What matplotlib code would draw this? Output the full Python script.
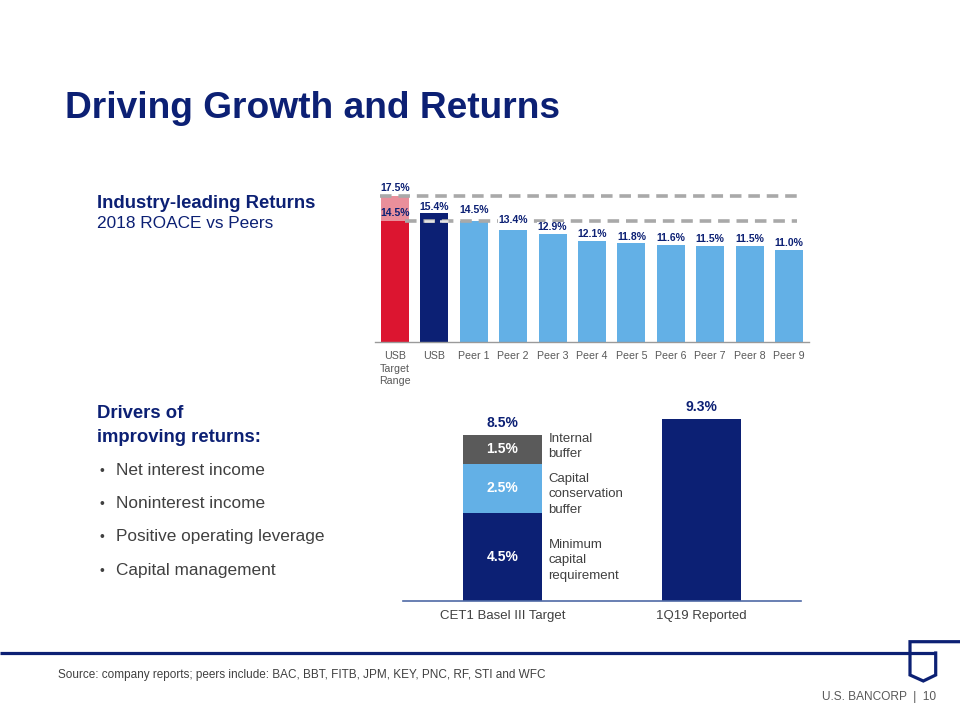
import matplotlib
matplotlib.use("Agg")
import matplotlib.pyplot as plt
from matplotlib.lines import Line2D
import numpy as np

plt.rcParams['font.family'] = ['Liberation Sans', 'DejaVu Sans']

# ---------------- data ----------------
roace_categories = ["USB\nTarget\nRange", "USB", "Peer 1", "Peer 2", "Peer 3", "Peer 4",
                    "Peer 5", "Peer 6", "Peer 7", "Peer 8", "Peer 9"]
target_low = 14.5
target_high = 17.5
roace_values = [15.4, 14.5, 13.4, 12.9, 12.1, 11.8, 11.6, 11.5, 11.5, 11.0]  # USB, Peer 1..9

cet1_categories = ["CET1 Basel III Target", "1Q19 Reported"]
cet1_components = [4.5, 2.5, 1.5]
cet1_component_names = ["Minimum\ncapital\nrequirement", "Capital\nconservation\nbuffer", "Internal\nbuffer"]
cet1_target_total = 8.5
cet1_reported = 9.3

bullets = ["Net interest income", "Noninterest income",
           "Positive operating leverage", "Capital management"]

# ---------------- style ----------------
NAVY = '#0c2074'
LBLUE = '#63b0e6'
RED = '#dc1530'
PINK = '#e98f9b'
DGREY = '#5a5a5a'
TXT = '#404040'
LBL = '#595959'
DASH = '#a9a9a9'

W, H = 960, 720
fig = plt.figure(figsize=(9.6, 7.2), dpi=100)
fig.patch.set_facecolor('white')


def ftext(x, y, s, **kw):
    return fig.text(x / W, 1 - y / H, s, **kw)


def px_axes(left, top, right, bottom):
    return fig.add_axes([left / W, 1 - bottom / H, (right - left) / W, (bottom - top) / H])


# ---------------- titles / text ----------------
ftext(65, 118, "Driving Growth and Returns", fontsize=26.7, fontweight='bold',
      color=NAVY, va='baseline')
ftext(97, 208, "Industry-leading Returns", fontsize=13.3, fontweight='bold',
      color=NAVY, va='baseline')
ftext(97, 228.5, "2018 ROACE vs Peers", fontsize=12.4, color=NAVY, va='baseline')
ftext(97, 418, "Drivers of", fontsize=13.3, fontweight='bold', color=NAVY, va='baseline')
ftext(97, 441.5, "improving returns:", fontsize=13.3, fontweight='bold', color=NAVY, va='baseline')
for i, b in enumerate(bullets):
    yb = 475 + i * 33.2
    ftext(100, yb, "\u2022", fontsize=10, color=TXT, va='baseline')
    ftext(115.7, yb, b, fontsize=12.4, color=TXT, va='baseline')

ftext(58, 678, "Source: company reports; peers include: BAC, BBT, FITB, JPM, KEY, PNC, RF, STI and WFC",
      fontsize=8.45, color=TXT, va='baseline')
ftext(936, 700, "U.S. BANCORP  |  10", fontsize=8.6, color=LBL, va='baseline', ha='right')

# footer line + shield logo
fig.add_artist(Line2D([0, 936 / W], [1 - 653 / H, 1 - 653 / H], transform=fig.transFigure,
                      color=NAVY, lw=2.3, solid_capstyle='butt'))
shield_x = [960, 910, 910, 923.3, 935.7, 935.7]
shield_y = [641.7, 641.7, 675, 681, 675, 653]
fig.add_artist(Line2D([x / W for x in shield_x], [1 - y / H for y in shield_y],
                      transform=fig.transFigure, color=NAVY, lw=2.3,
                      solid_joinstyle='miter'))

# ---------------- top chart: ROACE ----------------
ax1 = px_axes(375.3, 341.7 - 20 * 8.34, 808.7, 341.7)
x = np.arange(len(roace_categories))
bw = 0.71
# target range bar
ax1.bar(x[0], target_low, width=bw, color=RED, zorder=2)
ax1.bar(x[0], target_high - target_low, bottom=target_low, width=bw, color=PINK, zorder=2)
# USB and peers
colors = [NAVY] + [LBLUE] * (len(roace_values) - 1)
ax1.bar(x[1:], roace_values, width=bw, color=colors, zorder=2)

# dashed reference lines
ax1.plot([-0.38, 10.2], [target_high, target_high], color=DASH, lw=2.6,
         dashes=(3.2, 1.9), zorder=3, dash_capstyle='butt')
ax1.plot([0.25, 10.2], [target_low, target_low], color=DASH, lw=2.6,
         dashes=(3.2, 1.9), zorder=3, dash_capstyle='butt')
ax1.plot([1 - bw / 2 + 0.08, 1 + bw / 2 - 0.02], [target_low, target_low], color='#e4e4e4', lw=1.8,
         dashes=(4.0, 2.2), zorder=4, dash_capstyle='butt')

# value labels
lblkw = dict(ha='center', va='bottom', fontsize=7.5, fontweight='bold', color=NAVY,
             textcoords='offset points', zorder=5)
boxkw = dict(boxstyle='square,pad=0.05', facecolor='white', edgecolor='none')
ax1.annotate(f"{target_high:.1f}%", (x[0], target_high), xytext=(0, 2), **lblkw)
ax1.annotate(f"{target_low:.1f}%", (x[0], target_low), xytext=(0, 1.8), **lblkw)
for xi, v in zip(x[1:], roace_values):
    if xi == 1:
        off, box = 0.6, None
    elif xi in (2, 3):
        off, box = 3.8, boxkw
    else:
        off, box = 1.2, boxkw
    ax1.annotate(f"{v:.1f}%", (xi, v), xytext=(0, off), bbox=box, **lblkw)

ax1.set_xlim(-0.5, 10.5)
ax1.set_ylim(0, 20)
ax1.set_xticks(x)
ax1.set_xticklabels(roace_categories, fontsize=7.7, color=LBL, linespacing=1.3)
ax1.tick_params(axis='x', length=0, pad=7)
ax1.set_yticks([])
for s in ['top', 'right', 'left']:
    ax1.spines[s].set_visible(False)
ax1.spines['bottom'].set_color('#9a9a9a')
ax1.spines['bottom'].set_linewidth(1.0)
ax1.patch.set_alpha(0)

# ---------------- bottom chart: CET1 ----------------
scale2 = 19.55
ax2 = px_axes(403, 600.7 - 10.5 * scale2, 801, 600.7)
bw2 = 0.4
seg_colors = [NAVY, LBLUE, DGREY]
name_offsets = [-2.6, -4.2, 2.0]
bottom = 0.0
for val, col, name, off in zip(cet1_components, seg_colors, cet1_component_names, name_offsets):
    ax2.bar(0, val, bottom=bottom, width=bw2, color=col, zorder=2)
    ax2.text(0, bottom + val / 2, f"{val:.1f}%", ha='center', va='center', color='white',
             fontsize=10, fontweight='bold', zorder=3)
    ax2.annotate(name, (bw2 / 2, bottom + val / 2), xytext=(4.5, off), textcoords='offset points',
                 ha='left', va='center', fontsize=9.5, color=TXT, linespacing=1.38)
    bottom += val
ax2.bar(1, cet1_reported, width=bw2, color=NAVY, zorder=2)
ax2.annotate(f"{cet1_target_total:.1f}%", (0, cet1_target_total), xytext=(0, 3.5),
             textcoords='offset points', ha='center', va='bottom', fontsize=10,
             fontweight='bold', color=NAVY)
ax2.annotate(f"{cet1_reported:.1f}%", (1, cet1_reported), xytext=(0, 3.5),
             textcoords='offset points', ha='center', va='bottom', fontsize=10,
             fontweight='bold', color=NAVY)

ax2.set_xlim(-0.5, 1.5)
ax2.set_ylim(0, 10.5)
ax2.set_xticks([0, 1])
ax2.set_xticklabels(cet1_categories, fontsize=9.5, color=TXT)
ax2.tick_params(axis='x', length=0, pad=7)
ax2.set_yticks([])
for s in ['top', 'right', 'left']:
    ax2.spines[s].set_visible(False)
ax2.spines['bottom'].set_color('#4f6aa6')
ax2.spines['bottom'].set_linewidth(1.2)
ax2.patch.set_alpha(0)

fig.savefig("out.png", dpi=100, facecolor='white')
